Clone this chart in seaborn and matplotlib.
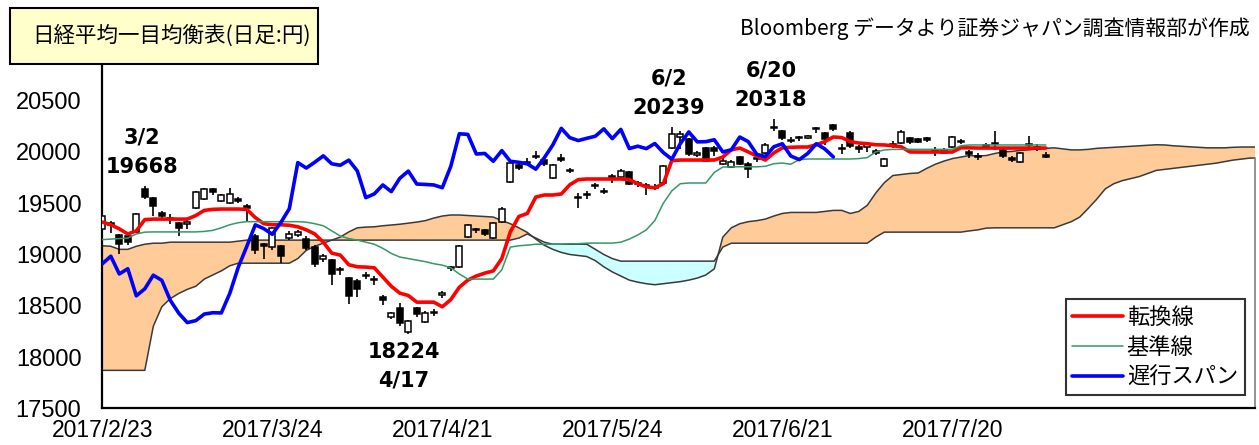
import numpy as np
import matplotlib
matplotlib.use("Agg")
import matplotlib.pyplot as plt
from matplotlib.patches import Rectangle
import seaborn as sns

# x axis = trading day index, 2017/2/23 = 0
tick_pos = [0, 20, 40, 60, 80, 100, 120]
tick_labels = ["2017/2/23", "2017/3/24", "2017/4/21", "2017/5/24", "2017/6/21", "2017/7/20", ""]

opens = [19245, 19310, 19190, 19180, 19220, 19640, 19550, 19400, 19360, 19310,
         19300, 19450, 19540, 19640, 19520, 19500, 19545, 19470, 19180, 19100,
         19070, 19080, 19160, 19190, 19150, 19070, 18960, 18950, 18850, 18770,
         18740, 18790, 18760, 18590, 18390, 18480, 18240, 18480, 18340, 18440,
         18600, 18870, 18880, 19170, 19240, 19240, 19160, 19320, 19710, 19870,
         19890, 19950, 19920, 19750, 19940, 19810, 19560, 19580, 19670, 19620,
         19770, 19760, 19800, 19700, 19670, 19660, 19700, 20040, 20150, 20130,
         19970, 20040, 20040, 19880, 19850, 19950, 19880, 19930, 19990, 20240,
         20200, 20120, 20150, 20140, 20220, 20180, 20260, 20040, 20180, 20050,
         20050, 20010, 19860, 20070, 20090, 20140, 20130, 20140, 20020, 19990,
         20050, 20110, 20000, 19960, 20070, 20090, 20020, 19940, 19900, 20070,
         20050, 19970]
highs = [19400, 19330, 19200, 19200, 19400, 19668, 19560, 19420, 19390, 19320,
         19340, 19620, 19650, 19650, 19590, 19650, 19560, 19490, 19200, 19110,
         19270, 19090, 19230, 19240, 19180, 19090, 19000, 18960, 18880, 18780,
         18760, 18830, 18790, 18600, 18440, 18530, 18360, 18490, 18450, 18470,
         18640, 18890, 19090, 19300, 19260, 19250, 19320, 19460, 19900, 19880,
         19940, 20010, 19940, 19880, 19980, 19840, 19600, 19620, 19700, 19650,
         19780, 19830, 19810, 19720, 19700, 19690, 19870, 20239, 20200, 20140,
         20010, 20050, 20060, 19960, 19920, 19960, 19900, 19970, 20090, 20318,
         20210, 20150, 20160, 20170, 20240, 20190, 20270, 20080, 20200, 20070,
         20100, 20030, 19940, 20110, 20210, 20150, 20140, 20150, 20050, 20040,
         20160, 20130, 20020, 19990, 20090, 20200, 20030, 19960, 20000, 20160,
         20080, 20000]
lows = [19230, 19210, 19000, 19090, 19210, 19540, 19380, 19340, 19300, 19180,
        19250, 19440, 19530, 19580, 19510, 19490, 19500, 19330, 19000, 18960,
        19040, 18920, 19140, 19170, 19040, 18880, 18930, 18700, 18800, 18520,
        18590, 18760, 18700, 18510, 18370, 18300, 18224, 18390, 18330, 18400,
        18580, 18840, 18870, 19160, 19210, 19180, 19150, 19310, 19700, 19820,
        19870, 19930, 19860, 19740, 19900, 19790, 19450, 19540, 19640, 19590,
        19700, 19750, 19680, 19660, 19580, 19630, 19690, 20030, 20030, 19960,
        19950, 19900, 19960, 19870, 19840, 19870, 19750, 19900, 19980, 20200,
        20120, 20090, 20110, 20130, 20180, 20070, 20200, 19980, 20040, 19990,
        20000, 19970, 19850, 20040, 20080, 20080, 20090, 20100, 19960, 19980,
        20040, 20080, 19940, 19920, 20040, 20020, 19940, 19900, 19890, 20040,
        20010, 19940]
closes = [19371, 19284, 19107, 19119, 19394, 19565, 19469, 19379, 19344, 19254,
          19319, 19605, 19634, 19610, 19577, 19590, 19522, 19456, 19041, 19085,
          19263, 18986, 19203, 19217, 19063, 18909, 18983, 18810, 18861, 18597,
          18665, 18798, 18748, 18553, 18427, 18336, 18355, 18419, 18432, 18430,
          18621, 18876, 19079, 19289, 19252, 19197, 19311, 19446, 19896, 19843,
          19900, 19962, 19884, 19870, 19920, 19815, 19554, 19591, 19678, 19613,
          19743, 19813, 19687, 19683, 19678, 19651, 19860, 20177, 20171, 19980,
          19985, 19909, 20013, 19909, 19899, 19884, 19832, 19943, 20068, 20230,
          20139, 20111, 20133, 20153, 20225, 20130, 20220, 20033, 20056, 20032,
          20082, 19994, 19929, 20081, 20195, 20098, 20100, 20119, 20000, 20021,
          20145, 20100, 19976, 19955, 20050, 20080, 19960, 19925, 19986, 20080,
          20029, 19952]

# 転換線
tenkan = [19316, 19290, 19250, 19200, 19230, 19340, 19345, 19345, 19345, 19345,
          19345, 19380, 19430, 19440, 19443, 19443, 19443, 19440, 19360, 19300,
          19290, 19290, 19285, 19270, 19240, 19200, 19120, 19013, 18994, 18900,
          18880, 18877, 18870, 18780, 18690, 18623, 18600, 18535, 18535, 18535,
          18490, 18560, 18680, 18750, 18790, 18818, 18840, 18960, 19220, 19370,
          19400, 19560, 19580, 19580, 19590, 19680, 19730, 19736, 19736, 19736,
          19736, 19736, 19730, 19690, 19660, 19650, 19690, 19915, 19921, 19921,
          19921, 19921, 19921, 19950, 20020, 20038, 20000, 19960, 19921, 19990,
          20040, 20045, 20048, 20048, 20070, 20100, 20146, 20140, 20100, 20087,
          20080, 20070, 20068, 20060, 20050, 20000, 19999, 19999, 19999, 19999,
          19999, 20040, 20040, 20038, 20038, 20038, 20038, 20038, 20038, 20038,
          20038, 20038]
# 基準線
kijun = [19145, 19150, 19155, 19160, 19200, 19218, 19220, 19220, 19220, 19220,
         19220, 19220, 19225, 19235, 19260, 19290, 19310, 19320, 19320, 19320,
         19320, 19320, 19320, 19320, 19315, 19300, 19280, 19230, 19180, 19155,
         19140, 19120, 19100, 19060, 19010, 18975, 18960, 18945, 18930, 18910,
         18896, 18870, 18810, 18760, 18760, 18760, 18760, 18850, 19072, 19085,
         19091, 19100, 19100, 19100, 19100, 19105, 19105, 19110, 19111, 19111,
         19111, 19120, 19150, 19190, 19240, 19330, 19500, 19620, 19690, 19697,
         19697, 19697, 19800, 19853, 19855, 19855, 19855, 19855, 19860, 19885,
         19892, 19880, 19925, 19931, 19931, 19931, 19931, 19931, 19931, 19935,
         19945, 20000, 20019, 20025, 20025, 20025, 20025, 20025, 20025, 20025,
         20025, 20060, 20068, 20068, 20068, 20068, 20068, 20068, 20068, 20068,
         20068, 20068]
# 先行スパン (cloud edges)
span_a = [19085, 19080, 19050, 19050, 19080, 19100, 19110, 19110,
          19120, 19120, 19120, 19120, 19120, 19120, 19120, 19120, 19130,
          19140, 19140, 19140, 19140, 19140, 19140, 19140, 19140, 19140, 19140,
          19140, 19170, 19220, 19260, 19267, 19270, 19280, 19287, 19295, 19305,
          19316, 19330, 19355, 19375, 19385, 19385, 19380, 19375, 19370, 19365,
          19330, 19300, 19260, 19215, 19150, 19090, 19050, 19020, 19000, 18990,
          18980, 18940, 18880, 18830, 18790, 18750, 18730, 18715, 18705, 18715,
          18725, 18735, 18750, 18770, 18800, 18860, 19169, 19260, 19300, 19320,
          19330, 19345, 19375, 19400, 19410, 19410, 19410, 19410, 19420, 19430,
          19430, 19400, 19420, 19480, 19600, 19700, 19770, 19780, 19790, 19795,
          19840, 19880, 19910, 19935, 19950, 19965, 19960, 19965, 19985, 20000,
          20005, 20015, 20020, 20030, 20035, 20040, 20030, 20020, 20020, 20025,
          20035, 20040, 20045, 20050, 20055, 20060, 20065, 20070, 20068, 20060,
          20055, 20050, 20045, 20040, 20040, 20040, 20045, 20048, 20048, 20048]
span_b = [17870, 17870, 17870, 17870, 17870, 17870, 18300, 18490, 18570, 18620,
          18660, 18690, 18760, 18800, 18840, 18890, 18915, 18915, 18915, 18915,
          18915, 18915, 18915, 18960, 19040, 19080, 19110,
          19140, 19140, 19140, 19140, 19140, 19140, 19140, 19140, 19140, 19140,
          19140, 19140, 19140, 19140, 19140, 19140, 19140, 19140, 19140, 19140,
          19140, 19140, 19160, 19200, 19160, 19120, 19100, 19100, 19100, 19100,
          19100, 19050, 19000, 18960, 18935, 18935, 18935, 18935, 18935, 18935,
          18935, 18935, 18935, 18935, 18935, 18935, 19072, 19110, 19110, 19110,
          19110, 19110, 19110, 19110, 19110, 19110, 19110, 19110, 19110, 19110,
          19110, 19110, 19110, 19110, 19170, 19218, 19218, 19218, 19218, 19218,
          19218, 19218, 19218, 19218, 19218, 19230, 19240, 19257, 19260, 19260,
          19260, 19260, 19260, 19260, 19260, 19260, 19290, 19320, 19365, 19450,
          19540, 19640, 19690, 19720, 19740, 19760, 19790, 19820, 19830, 19840,
          19850, 19860, 19870, 19880, 19890, 19905, 19920, 19930, 19940, 19941]
chikou_lag = 25

# marked extremes: (label, day index, which)
marks = [("3/2", 5, "high"), ("6/2", 67, "high"), ("6/20", 79, "high"), ("4/17", 36, "low")]

sns.set_style("white")
plt.rcParams["font.family"] = ["Noto Sans CJK JP", "DejaVu Sans"]
plt.rcParams["text.color"] = "black"
plt.rcParams["xtick.color"] = "black"
plt.rcParams["ytick.color"] = "black"
plt.rcParams["axes.labelcolor"] = "black"

fig = plt.figure(figsize=(12.59, 4.45), dpi=100)
ax = fig.add_axes([102.3 / 1259, 36.7 / 445, 1152.7 / 1259, 342.3 / 445])

# cloud
xc = np.arange(len(span_a))
a = np.array(span_a, dtype=float)
b = np.array(span_b, dtype=float)
ax.fill_between(xc, a, b, where=a >= b, interpolate=True, color="#FFCC99", lw=0, zorder=1)
ax.fill_between(xc, a, b, where=a < b, interpolate=True, color="#CCFFFF", lw=0, zorder=1)
ax.plot(xc, a, color="#3a3a3a", lw=1.1, zorder=2)
ax.plot(xc, b, color="#3a3a3a", lw=1.1, zorder=2)

# candles
x = np.arange(len(closes))
o = np.array(opens, dtype=float)
c = np.array(closes, dtype=float)
body_lo = np.minimum(o, c)
body_h = np.maximum(np.abs(c - o), 10)
up = c >= o
ax.vlines(x, lows, highs, color="black", lw=1.2, zorder=3)
ax.bar(x[up], body_h[up], bottom=body_lo[up], width=0.72, color="white",
       edgecolor="black", linewidth=1.1, zorder=4)
ax.bar(x[~up], body_h[~up], bottom=body_lo[~up], width=0.72, color="black",
       edgecolor="black", linewidth=1.1, zorder=4)

# ichimoku lines
sns.lineplot(x=x, y=tenkan, color="#FF0000", linewidth=2.6, ax=ax, label="転換線", zorder=5)
sns.lineplot(x=x, y=kijun, color="#339966", linewidth=1.1, ax=ax, label="基準線", zorder=5)
sns.lineplot(x=x[chikou_lag:] - chikou_lag, y=closes[chikou_lag:], color="#0000FF",
             linewidth=2.6, ax=ax, label="遅行スパン", zorder=5)

# annotations
ann = dict(textcoords="offset points", ha="center", va="center", fontsize=15,
           fontweight="bold", family="DejaVu Sans", color="black", zorder=6)
for lbl, i, kind in marks:
    if kind == "high":
        val = highs[i]
        ax.annotate(str(val), (i, val), xytext=(-2, 14), **ann)
        ax.annotate(lbl, (i, val), xytext=(-2, 35), **ann)
    else:
        val = lows[i]
        ax.annotate(str(val), (i, val), xytext=(-3, -12.6), **ann)
        ax.annotate(lbl, (i, val), xytext=(-3, -33.5), **ann)

ax.set_xlim(0, 1152.7 / 8.5)
ax.set_ylim(17500, 20838)
ax.set_yticks(range(17500, 20501, 500))
ax.set_xticks(tick_pos)
ax.set_xticklabels(tick_labels)
ax.set_xlabel("")
ax.set_ylabel("")
ax.tick_params(axis="y", direction="out", length=6, width=1.2, pad=9, labelsize=17)
ax.tick_params(axis="x", direction="out", length=5, width=1.2, pad=3, labelsize=16.5)
for t in ax.get_yticklabels():
    t.set_family(["Liberation Sans", "DejaVu Sans"])
for t in ax.get_xticklabels():
    t.set_family(["Liberation Sans", "DejaVu Sans"])

ax.spines["top"].set_visible(False)
for s in ["left", "bottom"]:
    ax.spines[s].set_color("black")
    ax.spines[s].set_linewidth(1.6)
ax.spines["right"].set_color("#808080")
ax.spines["right"].set_linewidth(1.2)
ax.spines["right"].set_bounds(17500, min(span_a[-1], span_b[-1]))

leg = ax.legend(loc="lower right", bbox_to_anchor=(0.991, 0.039), frameon=True,
                fancybox=False, edgecolor="black", fontsize=16, handlelength=2.3,
                handletextpad=0.15, labelspacing=0.3, borderpad=0.3, borderaxespad=0)
leg.get_frame().set_linewidth(1.5)
leg.get_frame().set_facecolor("white")
leg.set_zorder(10)

# title box
fig.patches.append(Rectangle((10 / 1259, 1 - 64 / 445), 308 / 1259, 56 / 445,
                             transform=fig.transFigure, facecolor="#FFFFCC",
                             edgecolor="black", linewidth=1.5, zorder=1))
fig.text(172 / 1259, 1 - 36 / 445, "日経平均一目均衡表(日足:円)", ha="center", va="center",
         fontsize=15.5, color="black")
fig.text(1250 / 1259, 1 - 29 / 445, "Bloomberg データより証券ジャパン調査情報部が作成",
         ha="right", va="center", fontsize=15, color="black")

fig.savefig("out.png", dpi=100)
